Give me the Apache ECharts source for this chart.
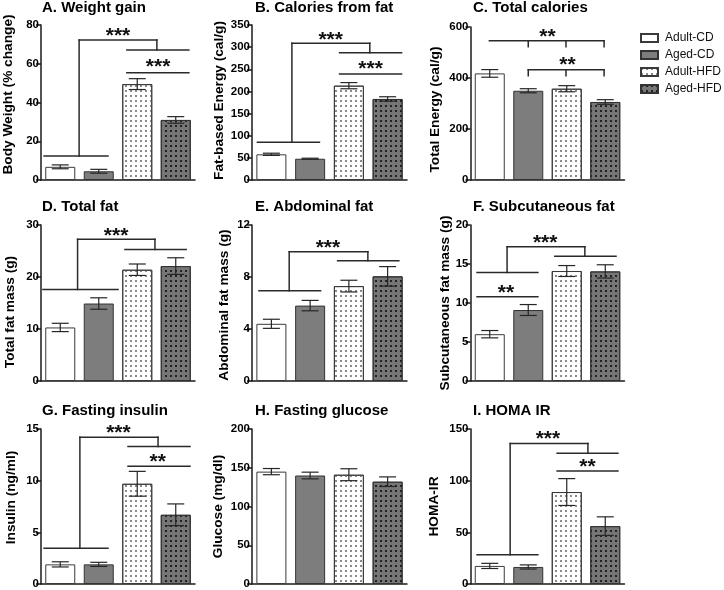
<!DOCTYPE html>
<html><head><meta charset="utf-8">
<script src="https://cdn.jsdelivr.net/npm/echarts@6/dist/echarts.min.js"></script>
<style>html,body{margin:0;padding:0;background:#fff}#c{width:724px;height:590px}</style>
</head><body><div id="c"></div>
<script>
// ---------------- data ----------------
const groups = ['Adult-CD', 'Aged-CD', 'Adult-HFD', 'Aged-HFD'];
const panelTitles = ['A. Weight gain', 'B. Calories from fat', 'C. Total calories',
  'D. Total fat', 'E. Abdominal fat', 'F. Subcutaneous fat',
  'G. Fasting insulin', 'H. Fasting glucose', 'I. HOMA IR'];
const yNames = ['Body Weight (% change)', 'Fat-based Energy (cal/g)', 'Total Energy (cal/g)',
  'Total fat mass (g)', 'Abdominal fat mass (g)', 'Subcutaneous fat mass (g)',
  'Insulin (ng/ml)', 'Glucose (mg/dl)', 'HOMA-IR'];
const yMax = [80, 350, 600, 30, 12, 20, 15, 200, 150];
const yStep = [20, 50, 200, 10, 4, 5, 5, 50, 50];

const meanA = [6.8, 4.5, 49.5, 31.0];   const semA = [1.0, 1.0, 2.8, 1.7];
const meanB = [58, 48, 213, 183];       const semB = [2.5, 1.2, 7, 5];
const meanC = [418, 350, 358, 306];     const semC = [15, 8, 12, 9];
const meanD = [10.3, 14.9, 21.4, 22.1]; const semD = [0.8, 1.1, 1.1, 1.6];
const meanE = [4.4, 5.8, 7.3, 8.05];    const semE = [0.35, 0.4, 0.45, 0.75];
const meanF = [6.0, 9.1, 14.1, 14.05];  const semF = [0.47, 0.7, 0.7, 0.85];
const meanG = [1.9, 1.9, 9.7, 6.7];     const semG = [0.25, 0.2, 1.2, 1.05];
const meanH = [145, 140, 141, 132];     const semH = [4, 4.3, 7.7, 6.2];
const meanI = [17.5, 16.5, 89, 56];     const semI = [2.5, 2, 13, 9];

// significance brackets: segments [x1, y1, x2, y2] in (group index, value) units
const bracketA = [[-0.42,12.4,1.24,12.4],[0.49,12.4,0.49,72.3],[0.49,72.3,2.51,72.3],[2.51,72.3,2.51,67.1],[1.73,67.1,3.34,67.1],[1.73,55.4,3.34,55.4]];
const bracketB = [[-0.36,85,1.24,85],[0.53,85,0.53,308.6],[0.53,308.6,2.54,308.6],[2.54,308.6,2.54,287.5],[1.76,287.5,3.36,287.5],[1.76,239.4,3.36,239.4]];
const bracketC = [[-0.01,546,2.97,546],[1.0,546,1.0,523],[1.98,546,1.98,523],[2.97,546,2.97,523],[1.0,432.5,2.97,432.5],[1.0,432.5,1.0,409],[1.98,432.5,1.98,409],[2.97,432.5,2.97,409]];
const bracketD = [[-0.45,17.6,1.5,17.6],[0.45,17.6,0.45,27.25],[0.45,27.25,2.46,27.25],[2.46,27.25,2.46,25.3],[1.68,25.3,3.27,25.3]];
const bracketE = [[-0.32,6.95,1.27,6.95],[0.46,6.95,0.46,9.95],[0.46,9.95,2.49,9.95],[2.49,9.95,2.49,9.25],[1.71,9.25,3.29,9.25]];
const bracketF = [[-0.33,10.8,1.25,10.8],[-0.33,13.9,1.25,13.9],[0.45,13.9,0.45,17.2],[0.45,17.2,2.47,17.2],[2.47,17.2,2.47,16.0],[1.69,16.0,3.28,16.0]];
const bracketG = [[-0.42,3.45,1.24,3.45],[0.51,3.45,0.51,14.2],[0.51,14.2,2.54,14.2],[2.54,14.2,2.54,13.3],[1.76,13.3,3.37,13.3],[1.76,11.4,3.37,11.4]];
const bracketH = [];
const bracketI = [[-0.33,28.2,1.25,28.2],[0.53,28.2,0.53,136],[0.53,136,2.55,136],[2.55,136,2.55,126.6],[1.75,126.6,3.33,126.6],[1.75,109.4,3.33,109.4]];

// stars: [x, y, number of asterisks]
const starsA = [[1.5,76.4,3],[2.54,60.4,3]];
const starsB = [[1.53,327,3],[2.56,260,3]];
const starsC = [[1.5,580,2],[2.02,467,2]];
const starsD = [[1.45,28.7,3]];
const starsE = [[1.46,10.6,3]];
const starsF = [[0.42,11.9,2],[1.44,18.3,3]];
const starsG = [[1.51,15.0,3],[2.53,12.2,2]];
const starsH = [];
const starsI = [[1.51,144.5,3],[2.54,117.6,2]];

const means = [meanA, meanB, meanC, meanD, meanE, meanF, meanG, meanH, meanI];
const sems = [semA, semB, semC, semD, semE, semF, semG, semH, semI];
const brackets = [bracketA, bracketB, bracketC, bracketD, bracketE, bracketF, bracketG, bracketH, bracketI];
const stars = [starsA, starsB, starsC, starsD, starsE, starsF, starsG, starsH, starsI];

// ---------------- layout / style ----------------
const FONT = '"Liberation Sans", Arial, sans-serif';
const colLeft = [41, 252, 470.5];
const colWidth = [154, 155, 154];
const gridBox = [[25,155],[25,155],[27,153],[225,156],[225,156],[225,156],[429,155],[429,155],[429,155]];
const nameGaps = [26, 26, 28, 24, 21, 18, 23, 27, 29];
const nameShift = [-8, -2, 6, 9, 2, 0, -9, 0, 0]; // + = down on screen
const titlePos = [[42,9],[255,9],[473,9],[42,208],[255,208],[473,208],[42,412],[255,412],[473,412]];
const groupStyle = [
  {color:'#ffffff', borderColor:'#3a3a3a', borderWidth:1},
  {color:'#7d7d7d', borderColor:'#333333', borderWidth:1},
  {color:'#ffffff', borderColor:'#3a3a3a', borderWidth:1,
    decal:{symbol:'rect', symbolSize:1, dashArrayX:[1.3,3], dashArrayY:[1.3,2.6], color:'#8a8a8a'}},
  {color:'#767676', borderColor:'#333333', borderWidth:1,
    decal:{symbol:'rect', symbolSize:1, dashArrayX:[1.3,3], dashArrayY:[1.3,2.6], color:'#222222'}}
];

const grid = [], xAxis = [], yAxis = [], series = [], graphic = [];
for (let p = 0; p < 9; p++) {
  const col = p % 3;
  const sh = nameShift[p];
  grid.push({left: colLeft[col], top: gridBox[p][0], width: colWidth[col], height: gridBox[p][1], outerBoundsMode: 'none', containLabel: false});
  xAxis.push({type:'category', gridIndex:p, data:groups, boundaryGap:true,
    axisLine:{show:true, onZero:false, lineStyle:{color:'#1a1a1a', width:1.5}},
    axisTick:{show:false}, axisLabel:{show:false}, splitLine:{show:false}});
  xAxis.push({type:'value', gridIndex:p, min:-0.5, max:3.5, show:false,
    axisLine:{show:false, onZero:false}});
  yAxis.push({type:'value', gridIndex:p, min:0, max:yMax[p], interval:yStep[p],
    name: yNames[p], nameLocation:'middle', nameGap: nameGaps[p], nameMoveOverlap:false,
    nameTextStyle:{fontFamily:FONT, fontWeight:'bold', fontSize:13.7, color:'#000',
      padding:[0, sh > 0 ? 2*sh : 0, 0, sh < 0 ? -2*sh : 0]},
    axisLine:{show:true, onZero:false, lineStyle:{color:'#1a1a1a', width:1.5}},
    axisTick:{show:true, length:5, lineStyle:{color:'#1a1a1a', width:1.5}},
    axisLabel:{fontFamily:FONT, fontWeight:'bold', fontSize:11.5, color:'#000', margin:2},
    splitLine:{show:false}});
  for (let k = 0; k < 4; k++) {
    series.push({type:'bar', name:groups[k], xAxisIndex:2*p, yAxisIndex:p,
      data: groups.map((g, j) => j === k ? means[p][j] : '-'),
      barWidth:30, barGap:'-100%', itemStyle: groupStyle[k], silent:true, animation:false, z:2});
  }
  series.push({type:'custom', xAxisIndex:2*p+1, yAxisIndex:p, z:4, animation:false, silent:true,
    data: means[p].map((m, j) => [j, m, sems[p][j]]),
    renderItem: function (params, api) {
      const x = api.value(0), m = api.value(1), e = api.value(2);
      const t = api.coord([x, m + e]), b = api.coord([x, m - e]);
      const hw = 8.5, st = {stroke:'#262626', lineWidth:1.2};
      return {type:'group', children:[
        {type:'line', shape:{x1:t[0], y1:t[1], x2:b[0], y2:b[1]}, style:st},
        {type:'line', shape:{x1:t[0]-hw, y1:t[1], x2:t[0]+hw, y2:t[1]}, style:st},
        {type:'line', shape:{x1:b[0]-hw, y1:b[1], x2:b[0]+hw, y2:b[1]}, style:st}
      ]};
    }});
  if (brackets[p].length) series.push({type:'custom', xAxisIndex:2*p+1, yAxisIndex:p, z:5, animation:false, silent:true,
    data: brackets[p],
    renderItem: function (params, api) {
      const a = api.coord([api.value(0), api.value(1)]), b = api.coord([api.value(2), api.value(3)]);
      return {type:'line', shape:{x1:a[0], y1:a[1], x2:b[0], y2:b[1]}, style:{stroke:'#2a2a2a', lineWidth:1.5, lineCap:'square'}};
    }});
  if (stars[p].length) series.push({type:'custom', xAxisIndex:2*p+1, yAxisIndex:p, z:5, animation:false, silent:true,
    data: stars[p],
    renderItem: function (params, api) {
      const c = api.coord([api.value(0), api.value(1)]);
      const fs = 21;
      return {type:'text', style:{text:'*'.repeat(api.value(2)), x:c[0], y:c[1] + 0.22*fs,
        align:'center', verticalAlign:'middle', fontFamily:FONT, fontWeight:'bold', fontSize:fs, fill:'#111'}};
    }});
  graphic.push({type:'text', left: titlePos[p][0], top: titlePos[p][1] - 9,
    style:{text: panelTitles[p], fontFamily:FONT, fontWeight:'bold', fontSize:15, fill:'#000'}});
}

const chart = echarts.init(document.getElementById('c'), null, {renderer:'canvas'});
chart.setOption({
  animation:false,
  backgroundColor:'#ffffff',
  grid, xAxis, yAxis, series, graphic,
  legend:{data:groups, orient:'vertical', left:640, top:31, icon:'rect', itemWidth:17, itemHeight:8,
    itemGap:3, padding:0, selectedMode:false,
    textStyle:{fontFamily:FONT, fontSize:12, color:'#111', lineHeight:14, padding:[0,0,0,2]}}
});
</script></body></html>
